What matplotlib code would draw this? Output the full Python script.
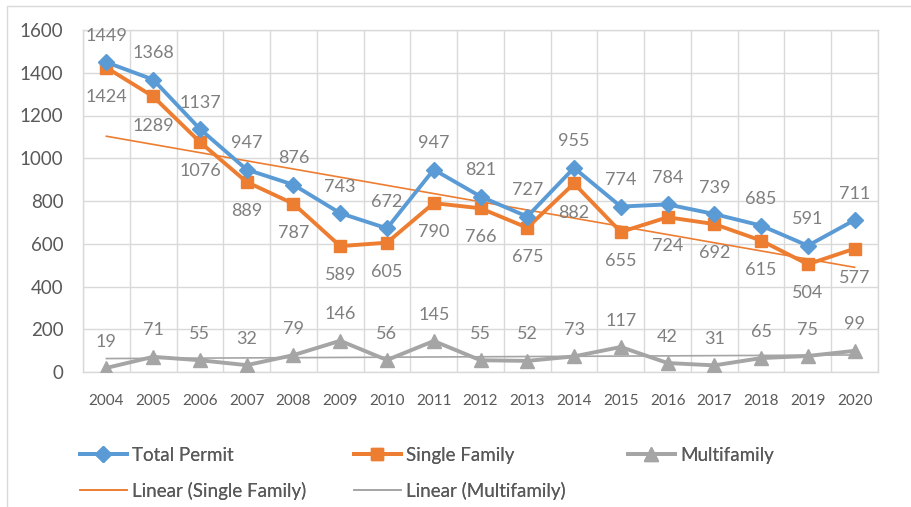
import numpy as np
import matplotlib.pyplot as plt
from matplotlib.patches import Rectangle

plt.rcParams['font.family'] = ['Lato', 'DejaVu Sans']

years = [str(y) for y in range(2004, 2021)]
total_permit = [1449, 1368, 1137, 947, 876, 743, 672, 947, 821, 727, 955, 774, 784, 739, 685, 591, 711]
single_family = [1424, 1289, 1076, 889, 787, 589, 605, 790, 766, 675, 882, 655, 724, 692, 615, 504, 577]
multifamily = [19, 71, 55, 32, 79, 146, 56, 145, 55, 52, 73, 117, 42, 31, 65, 75, 99]

BLUE = '#5B9BD5'
ORANGE = '#ED7D31'
GRAY = '#A5A5A5'
LABEL = '#7F7F7F'
TICK = '#595959'

W, H = 911, 507
fig = plt.figure(figsize=(W / 100, H / 100), dpi=100)
ax = fig.add_axes([83 / W, 1 - 372 / H, (878 - 83) / W, (372 - 30) / H])

x = np.arange(len(years))

# trend lines (least squares, like Excel's linear trendline)
sf_fit = np.polyfit(x, single_family, 1)
mf_fit = np.polyfit(x, multifamily, 1)
lin_sf, = ax.plot(x, np.polyval(sf_fit, x), color=ORANGE, lw=1.2, zorder=3)
lin_mf, = ax.plot(x, np.polyval(mf_fit, x), color=GRAY, lw=1.2, zorder=3)

tp, = ax.plot(x, total_permit, color=BLUE, lw=2.8, marker='D', ms=8, zorder=5)
sf, = ax.plot(x, single_family, color=ORANGE, lw=2.8, marker='s', ms=9, zorder=4)
mf, = ax.plot(x, multifamily, color=GRAY, lw=2.8, marker='^', ms=10, zorder=4)

lab_kw = dict(textcoords='offset points', ha='center', va='center',
              fontsize=13, color=LABEL, zorder=6)
for i in x:
    ax.annotate(str(total_permit[i]), (i, total_permit[i]), xytext=(0, 19), **lab_kw)
    ax.annotate(str(single_family[i]), (i, single_family[i]), xytext=(0, -21), **lab_kw)
    ax.annotate(str(multifamily[i]), (i, multifamily[i]), xytext=(0, 19), **lab_kw)

ax.set_xlim(-0.5, len(years) - 0.5)
ax.set_ylim(0, 1600)
ax.set_yticks(range(0, 1601, 200))
ax.set_xticks(x)
ax.set_xticklabels(years)
ax.set_xticks(np.arange(-0.5, len(years), 1), minor=True)
ax.grid(True, which='minor', axis='x', color='#D9D9D9', lw=1)
ax.grid(True, which='major', axis='y', color='#D9D9D9', lw=1)
ax.set_axisbelow(True)
ax.tick_params(axis='x', which='both', length=0, labelsize=11, colors=TICK, pad=16)
ax.tick_params(axis='y', length=0, labelsize=13.5, colors=TICK, pad=14)
for s in ax.spines.values():
    s.set_color('#D9D9D9')
    s.set_linewidth(1)

# legend: three columns, Excel-style
leg_kw = dict(frameon=False, fontsize=13.5, handlelength=2.5, handletextpad=0.3,
              labelspacing=0.93, loc='upper left', borderaxespad=0, borderpad=0,
              labelcolor=TICK)
cols = [([tp, lin_sf], ['Total Permit', 'Linear (Single Family)'], 80),
        ([sf, lin_mf], ['Single Family', 'Linear (Multifamily)'], 354),
        ([mf], ['Multifamily'], 628)]
for handles, labels, xpix in cols:
    lg = fig.legend(handles, labels, bbox_to_anchor=(xpix / W, 1 - 447 / H), **leg_kw)
    fig.add_artist(lg)

# outer chart border
fig.add_artist(Rectangle((7 / W, -0.05), 1.2, 1 - 6 / H + 0.05, transform=fig.transFigure,
                         fill=False, edgecolor='#D9D9D9', lw=1))

fig.savefig('out.png', dpi=100)
